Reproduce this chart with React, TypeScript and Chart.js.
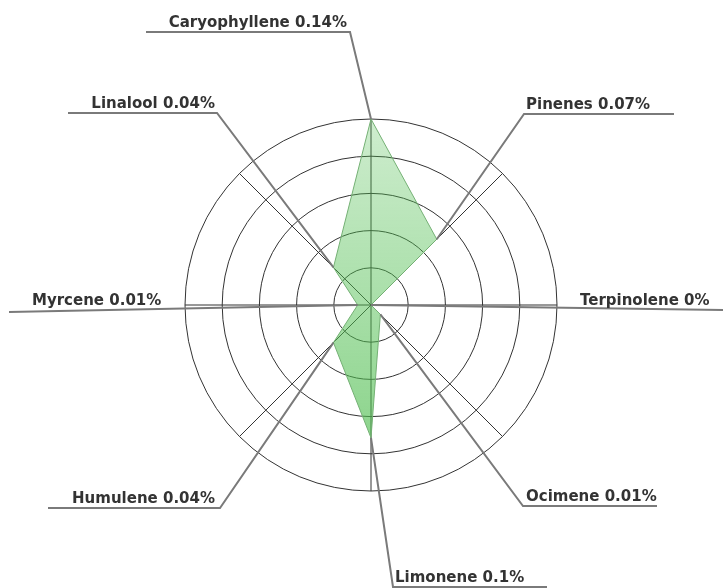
import React, { useEffect, useRef } from "react";
import { Chart, registerables } from "chart.js";

Chart.register(...registerables);

const terpenes = ["Caryophyllene", "Pinenes", "Terpinolene", "Ocimene", "Limonene", "Humulene", "Myrcene", "Linalool"];
const percents = [0.14, 0.07, 0, 0.01, 0.1, 0.04, 0.01, 0.04];
const scaleMax = 0.14;
const scaleStep = 0.028;

// leader-line layout relative to the chart centre: knee point, end of the horizontal rule, text side
const leaderKnees: [number, number][] = [
  [-21, -273], [153, -191], [352, 5], [152, 201], [22, 282], [-151, 203], [-362, 7], [-154, -192],
];
const ruleEnds = [-225, 303, 352, 286, 176, -323, -362, -303];
const textAlign: ("left" | "right")[] = ["right", "left", "left", "left", "left", "right", "left", "right"];
const textX = [-24, 155, 209, 155, 24, -156, -339, -156];

const leaderPlugin = {
  id: "leaders",
  afterDatasetsDraw(chart: any) {
    const scale = chart.scales.r;
    const meta = chart.getDatasetMeta(0);
    const ctx = chart.ctx;
    const cx = scale.xCenter;
    const cy = scale.yCenter;
    ctx.save();
    ctx.strokeStyle = "#7a7a7a";
    ctx.lineWidth = 2;
    ctx.lineJoin = "miter";
    meta.data.forEach((pt: any, i: number) => {
      const kx = cx + leaderKnees[i][0];
      const ky = cy + leaderKnees[i][1];
      ctx.beginPath();
      ctx.moveTo(pt.x, pt.y);
      ctx.lineTo(kx, ky);
      ctx.lineTo(cx + ruleEnds[i], ky);
      ctx.stroke();
    });
    ctx.fillStyle = "#333333";
    ctx.font = "bold 15px 'DejaVu Sans'";
    ctx.textBaseline = "alphabetic";
    terpenes.forEach((name, i) => {
      const label = `${name} ${percents[i]}%`;
      ctx.textAlign = textAlign[i];
      const ky = cy + leaderKnees[i][1];
      const baseY = i === 2 || i === 6 ? cy : ky - 5;
      ctx.fillText(label, cx + textX[i], baseY);
    });
    ctx.restore();
  },
};

export default function App() {
  const ref = useRef<HTMLCanvasElement | null>(null);
  useEffect(() => {
    if (!ref.current) return;
    const chart = new Chart(ref.current, {
      type: "radar",
      data: {
        labels: terpenes,
        datasets: [
          {
            data: percents,
            borderColor: "#74b074",
            borderWidth: 1,
            pointRadius: 0,
            fill: true,
            backgroundColor: (c: any) => {
              const area = c.chart.chartArea;
              if (!area) return "rgba(80,190,80,0.45)";
              const g = c.chart.ctx.createLinearGradient(0, area.top, 0, area.bottom - 50);
              g.addColorStop(0, "rgba(80,190,80,0.28)");
              g.addColorStop(1, "rgba(80,190,80,0.66)");
              return g;
            },
          },
        ],
      },
      options: {
        responsive: false,
        animation: false,
        layout: { padding: { left: 185, right: 166, top: 119, bottom: 97 } },
        plugins: { legend: { display: false }, tooltip: { enabled: false } },
        scales: {
          r: {
            min: 0,
            max: scaleMax,
            ticks: { display: false, stepSize: scaleStep },
            grid: { circular: true, color: "#333333", lineWidth: 1 },
            angleLines: { color: "#333333", lineWidth: 1 },
            pointLabels: { display: false },
          },
        },
      },
      plugins: [leaderPlugin],
    });
    return () => chart.destroy();
  }, []);
  return (
    <div style={{ position: "absolute", left: 0, top: 0, width: 723, height: 588, background: "#fff" }}>
      <canvas ref={ref} width={723} height={588} style={{ display: "block" }} />
    </div>
  );
}
